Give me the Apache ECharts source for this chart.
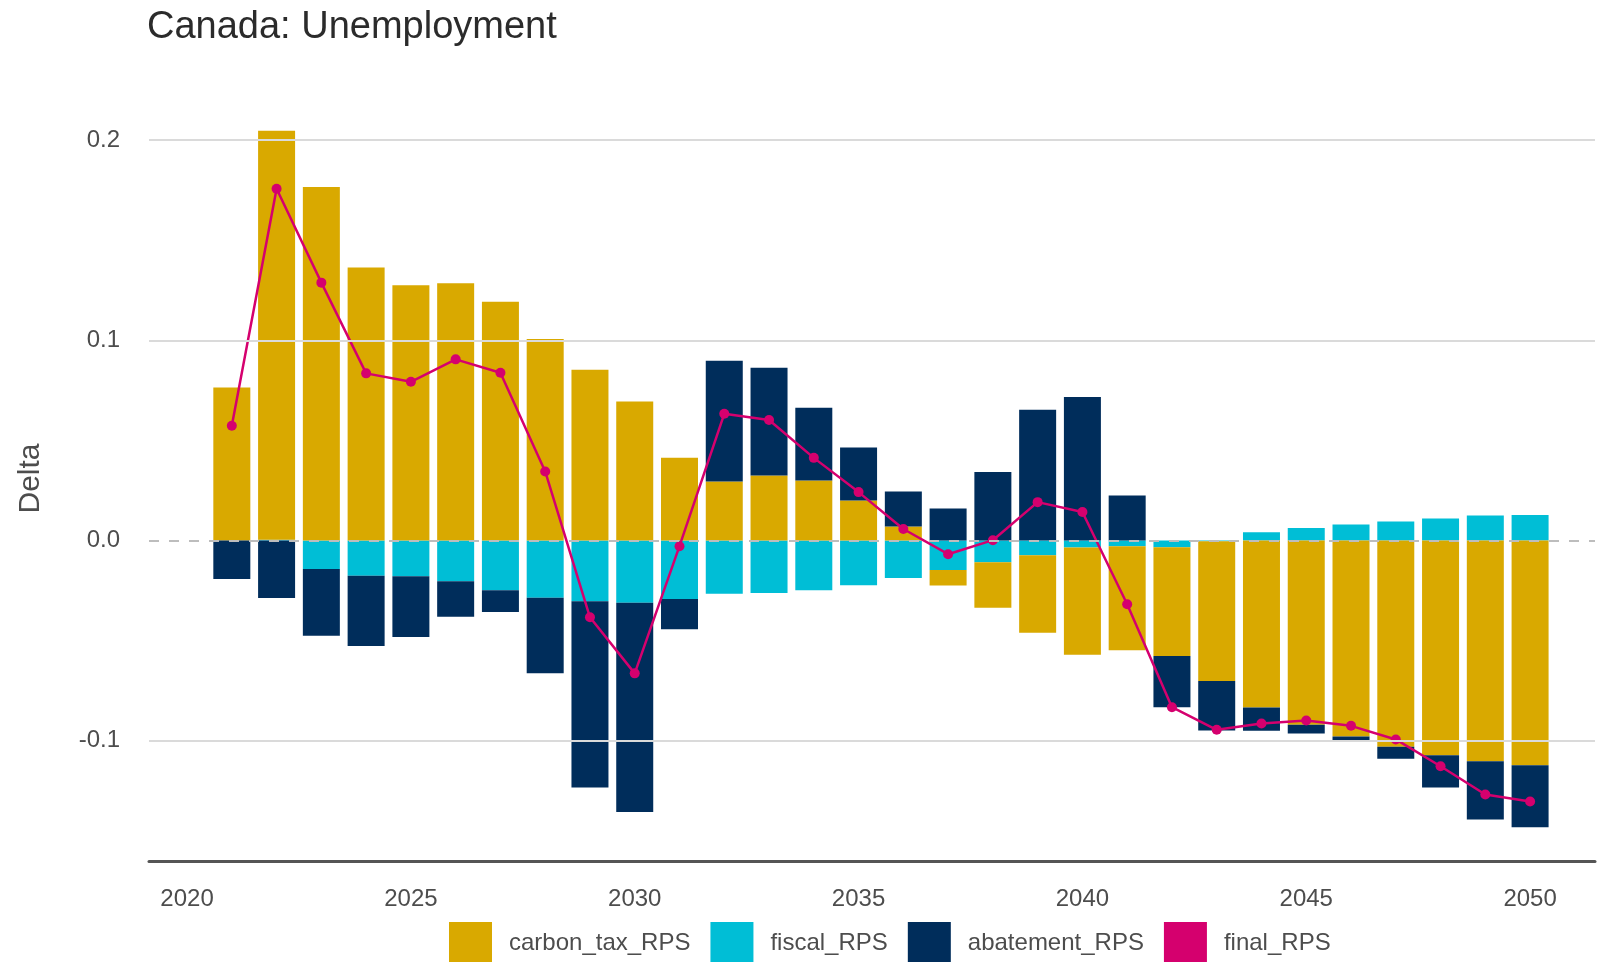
<!DOCTYPE html>
<html>
<head>
<meta charset="utf-8">
<script src="https://cdn.jsdelivr.net/npm/echarts@6/dist/echarts.min.js"></script>
<style>
  html, body { margin: 0; padding: 0; background: #fff; }
  #chart { width: 1598px; height: 962px; }
</style>
</head>
<body>
<div id="chart"></div>
<script>
const years = [2021, 2022, 2023, 2024, 2025, 2026, 2027, 2028, 2029, 2030,
  2031, 2032, 2033, 2034, 2035, 2036, 2037, 2038, 2039, 2040,
  2041, 2042, 2043, 2044, 2045, 2046, 2047, 2048, 2049, 2050]

const carbonTax = [0.0765, 0.2043, 0.1765, 0.1363, 0.1275, 0.1285, 0.1192, 0.1007, 0.0853, 0.0695,
  0.0413, 0.0295, 0.0325, 0.0300, 0.0200, 0.0070, -0.0077, -0.0228, -0.0387, -0.0535,
  -0.0520, -0.0543, -0.0698, -0.0833, -0.0920, -0.0978, -0.1030, -0.1072, -0.1102, -0.1122]

const fiscal = [0, 0.0004, -0.0142, -0.0175, -0.0178, -0.0203, -0.0248, -0.0285, -0.0303, -0.0310,
  -0.0292, -0.0265, -0.0262, -0.0248, -0.0223, -0.0187, -0.0147, -0.0108, -0.0073, -0.0035,
  -0.0028, -0.0033, -0.0003, 0.0042, 0.0063, 0.0080, 0.0095, 0.0110, 0.0125, 0.0128]

const abatement = [-0.0192, -0.0287, -0.0333, -0.0352, -0.0304, -0.0177, -0.0109, -0.0378, -0.0930, -0.1045,
  -0.0151, 0.0603, 0.0538, 0.0363, 0.0265, 0.0175, 0.0160, 0.0343, 0.0653, 0.0717,
  0.0225, -0.0256, -0.0247, -0.0117, -0.0043, -0.0027, -0.0060, -0.0161, -0.0291, -0.0310]

const finalRps = [0.0573, 0.1757, 0.1288, 0.0835, 0.0793, 0.0905, 0.0838, 0.0345, -0.0383, -0.0663,
  -0.0028, 0.0633, 0.0602, 0.0413, 0.0242, 0.0058, -0.0068, 0.0002, 0.0192, 0.0143,
  -0.0318, -0.0832, -0.0945, -0.0913, -0.0898, -0.0925, -0.0993, -0.1127, -0.1268, -0.1303]

const gridValues = [0.2, 0.1, -0.1]

const COLORS = {
  carbon: '#D9A900',
  fiscal: '#00BED6',
  abatement: '#002D5B',
  final: '#D5006E',
}
const FONT = '"Liberation Sans", Arial, sans-serif'

const chart = echarts.init(document.getElementById('chart'))

// value first so the stack runs on y (both axes are value axes)
function bar(name, values, color) {
  return {
    name,
    type: 'bar',
    stack: 'total',
    stackStrategy: 'samesign',
    barWidth: 37,
    encode: { x: 1, y: 0 },
    data: values.map((v, i) => [v, years[i]]),
    itemStyle: { color },
    z: 2,
  }
}

const option = {
  backgroundColor: '#fff',
  animation: false,
  title: {
    text: 'Canada: Unemployment',
    left: 147,
    top: 9,
    padding: 0,
    textStyle: { fontFamily: FONT, fontSize: 38, fontWeight: 'normal', color: '#2b2b2b' },
  },
  legend: {
    data: ['carbon_tax_RPS', 'fiscal_RPS', 'abatement_RPS', 'final_RPS'],
    left: 444,
    top: 917,
    icon: 'rect',
    itemWidth: 43,
    itemHeight: 43,
    itemGap: 20,
    textStyle: { fontFamily: FONT, fontSize: 24, color: '#4d4d4d', padding: [0, 0, 0, 12] },
  },
  grid: { left: 149, right: 0, top: 96, bottom: 101 },
  xAxis: {
    type: 'value',
    min: 2019.15,
    max: 2051.45,
    interval: 0.05,
    axisLine: { show: true, onZero: false, lineStyle: { color: '#555', width: 3 } },
    axisTick: { show: false },
    splitLine: { show: false },
    axisLabel: {
      margin: 26,
      fontFamily: FONT,
      fontSize: 24,
      color: '#4d4d4d',
      formatter: v => {
        const r = Math.round(v)
        return Math.abs(v - r) < 1e-6 && r % 5 === 0 ? String(r) : ''
      },
    },
  },
  yAxis: {
    type: 'value',
    min: -0.16,
    max: 0.222,
    interval: 0.02,
    name: 'Delta',
    nameLocation: 'middle',
    nameRotate: 90,
    nameGap: 103,
    nameTextStyle: { fontFamily: FONT, fontSize: 30, color: '#4d4d4d' },
    axisLine: { show: false },
    axisTick: { show: false },
    splitLine: { show: false },
    axisLabel: {
      margin: 29,
      fontFamily: FONT,
      fontSize: 24,
      color: '#4d4d4d',
      formatter: v => {
        const k = Math.round(v * 10)
        return Math.abs(v * 10 - k) < 1e-6 ? (k / 10).toFixed(1) : ''
      },
    },
  },
  series: [
    {
      name: 'gridlines',
      type: 'line',
      data: [],
      z: 0,
      silent: true,
      markLine: {
        silent: true,
        symbol: 'none',
        label: { show: false },
        lineStyle: { color: '#dadada', width: 2, type: 'solid' },
        data: gridValues.map(v => ({ yAxis: v })),
      },
    },
    bar('fiscal_RPS', fiscal, COLORS.fiscal),
    bar('carbon_tax_RPS', carbonTax, COLORS.carbon),
    bar('abatement_RPS', abatement, COLORS.abatement),
    {
      name: 'zero',
      type: 'line',
      data: [],
      z: 3,
      silent: true,
      markLine: {
        silent: true,
        symbol: 'none',
        label: { show: false },
        lineStyle: { color: '#bdbdbd', width: 2, type: [10, 10] },
        data: [{ yAxis: 0 }],
      },
    },
    {
      name: 'final_RPS',
      type: 'line',
      data: finalRps.map((v, i) => [years[i], v]),
      z: 4,
      symbol: 'circle',
      symbolSize: 10,
      lineStyle: { color: COLORS.final, width: 2.5 },
      itemStyle: { color: COLORS.final },
    },
  ],
}

chart.setOption(option)
</script>
</body>
</html>
